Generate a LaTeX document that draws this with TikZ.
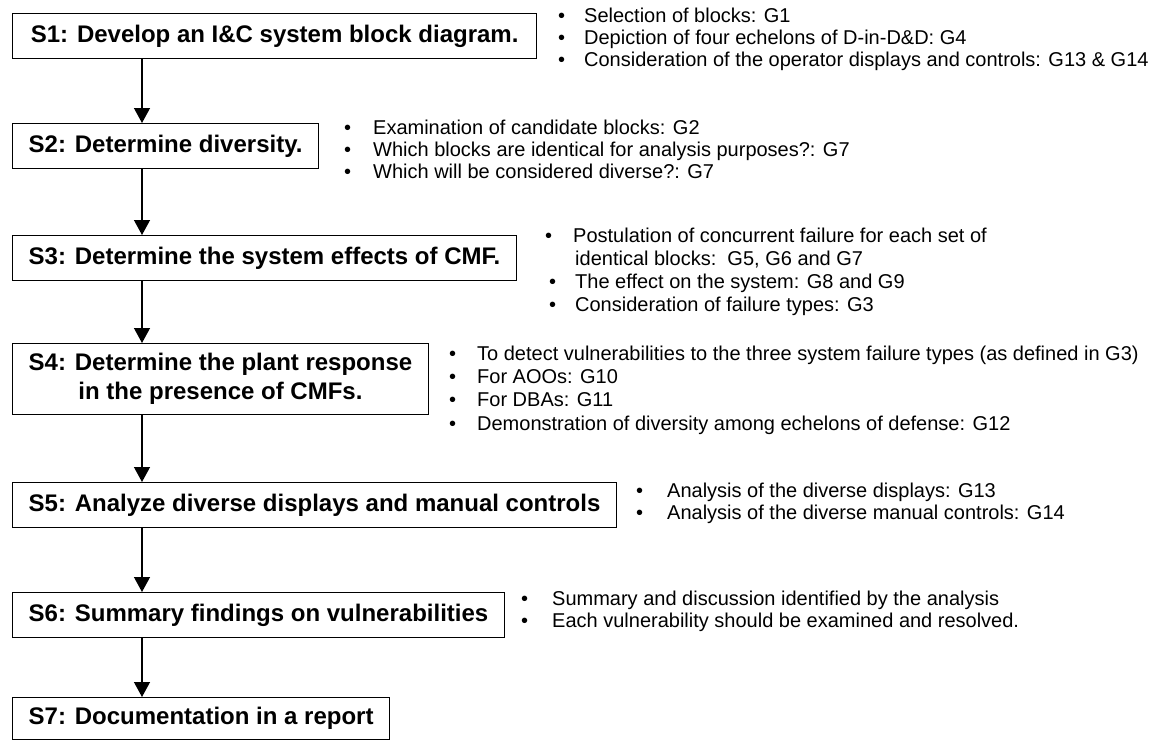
\documentclass[tikz,border=0pt]{standalone}
\usepackage{fontspec}
\setmainfont{Liberation Sans}
\usetikzlibrary{arrows.meta}
\newcommand{\bul}[1]{\makebox[#1][l]{•}}
\begin{document}
\begin{tikzpicture}[x=1pt,y=-1pt,
  stepbox/.style={draw, line width=1.3pt, anchor=north west, inner xsep=16pt, inner ysep=0pt,
    minimum height=45pt, font=\fontsize{24}{29}\selectfont\bfseries, align=center},
  note/.style={anchor=mid west, inner sep=0pt, font=\fontsize{20}{23}\selectfont},
  flow/.style={line width=1.3pt, -{Triangle[length=15pt,width=16pt]}}
]
\useasboundingbox (0,0) rectangle (1162,740);
\coordinate (ax) at (142,0);

% step boxes
\node[stepbox, minimum width=524pt] (s1) at (12,13) {S1: Develop an I\&C system block diagram.};
\node[stepbox] (s2) at (12,123) {S2: Determine diversity.};
\node[stepbox] (s3) at (12,235) {S3: Determine the system effects of CMF.};
\node[stepbox, minimum height=71pt] (s4) at (12,343) {S4: Determine the plant response\\in the presence of CMFs.};
\node[stepbox] (s5) at (12,482) {S5: Analyze diverse displays and manual controls};
\node[stepbox] (s6) at (12,592) {S6: Summary findings on vulnerabilities};
\node[stepbox, minimum height=42pt] (s7) at (12,697) {S7: Documentation in a report};

% flow arrows
\draw[flow] (ax |- s1.south) -- (ax |- s2.north);
\draw[flow] (ax |- s2.south) -- (ax |- s3.north);
\draw[flow] (ax |- s3.south) -- (ax |- s4.north);
\draw[flow] (ax |- s4.south) -- (ax |- s5.north);
\draw[flow] (ax |- s5.south) -- (ax |- s6.north);
\draw[flow] (ax |- s6.south) -- (ax |- s7.north);

% guideline notes
\node[note] (n1a) at (558,20) {\bul{26pt}Selection of blocks: G1};
\node[note] (n1b) at (558,42) {\bul{26pt}Depiction of four echelons of D-in-D\&D: G4};
\node[note] (n1c) at (558,64) {\bul{26pt}Consideration of the operator displays and controls: G13 \& G14};

\node[note] (n2a) at (344,132) {\bul{29pt}Examination of candidate blocks: G2};
\node[note] (n2b) at (344,154) {\bul{29pt}Which blocks are identical for analysis purposes?: G7};
\node[note] (n2c) at (344,176) {\bul{29pt}Which will be considered diverse?: G7};

\node[note] (n3a) at (545,240) {\bul{28pt}Postulation of concurrent failure for each set of};
\node[note] (n3b) at (575,263) {identical blocks:\ \ G5, G6 and G7};
\node[note] (n3c) at (549,286) {\bul{26pt}The effect on the system: G8 and G9};
\node[note] (n3d) at (549,309) {\bul{26pt}Consideration of failure types: G3};

\node[note] (n4a) at (449,358) {\bul{28pt}To detect vulnerabilities to the three system failure types (as defined in G3)};
\node[note] (n4b) at (449,381) {\bul{28pt}For AOOs: G10};
\node[note] (n4c) at (449,404) {\bul{28pt}For DBAs: G11};
\node[note] (n4d) at (449,428) {\bul{28pt}Demonstration of diversity among echelons of defense: G12};

\node[note] (n5a) at (636,495) {\bul{31pt}Analysis of the diverse displays: G13};
\node[note] (n5b) at (636,517) {\bul{31pt}Analysis of the diverse manual controls: G14};

\node[note] (n6a) at (521,603) {\bul{31pt}Summary and discussion identified by the analysis};
\node[note] (n6b) at (521,625) {\bul{31pt}Each vulnerability should be examined and resolved.};
\end{tikzpicture}
\end{document}
